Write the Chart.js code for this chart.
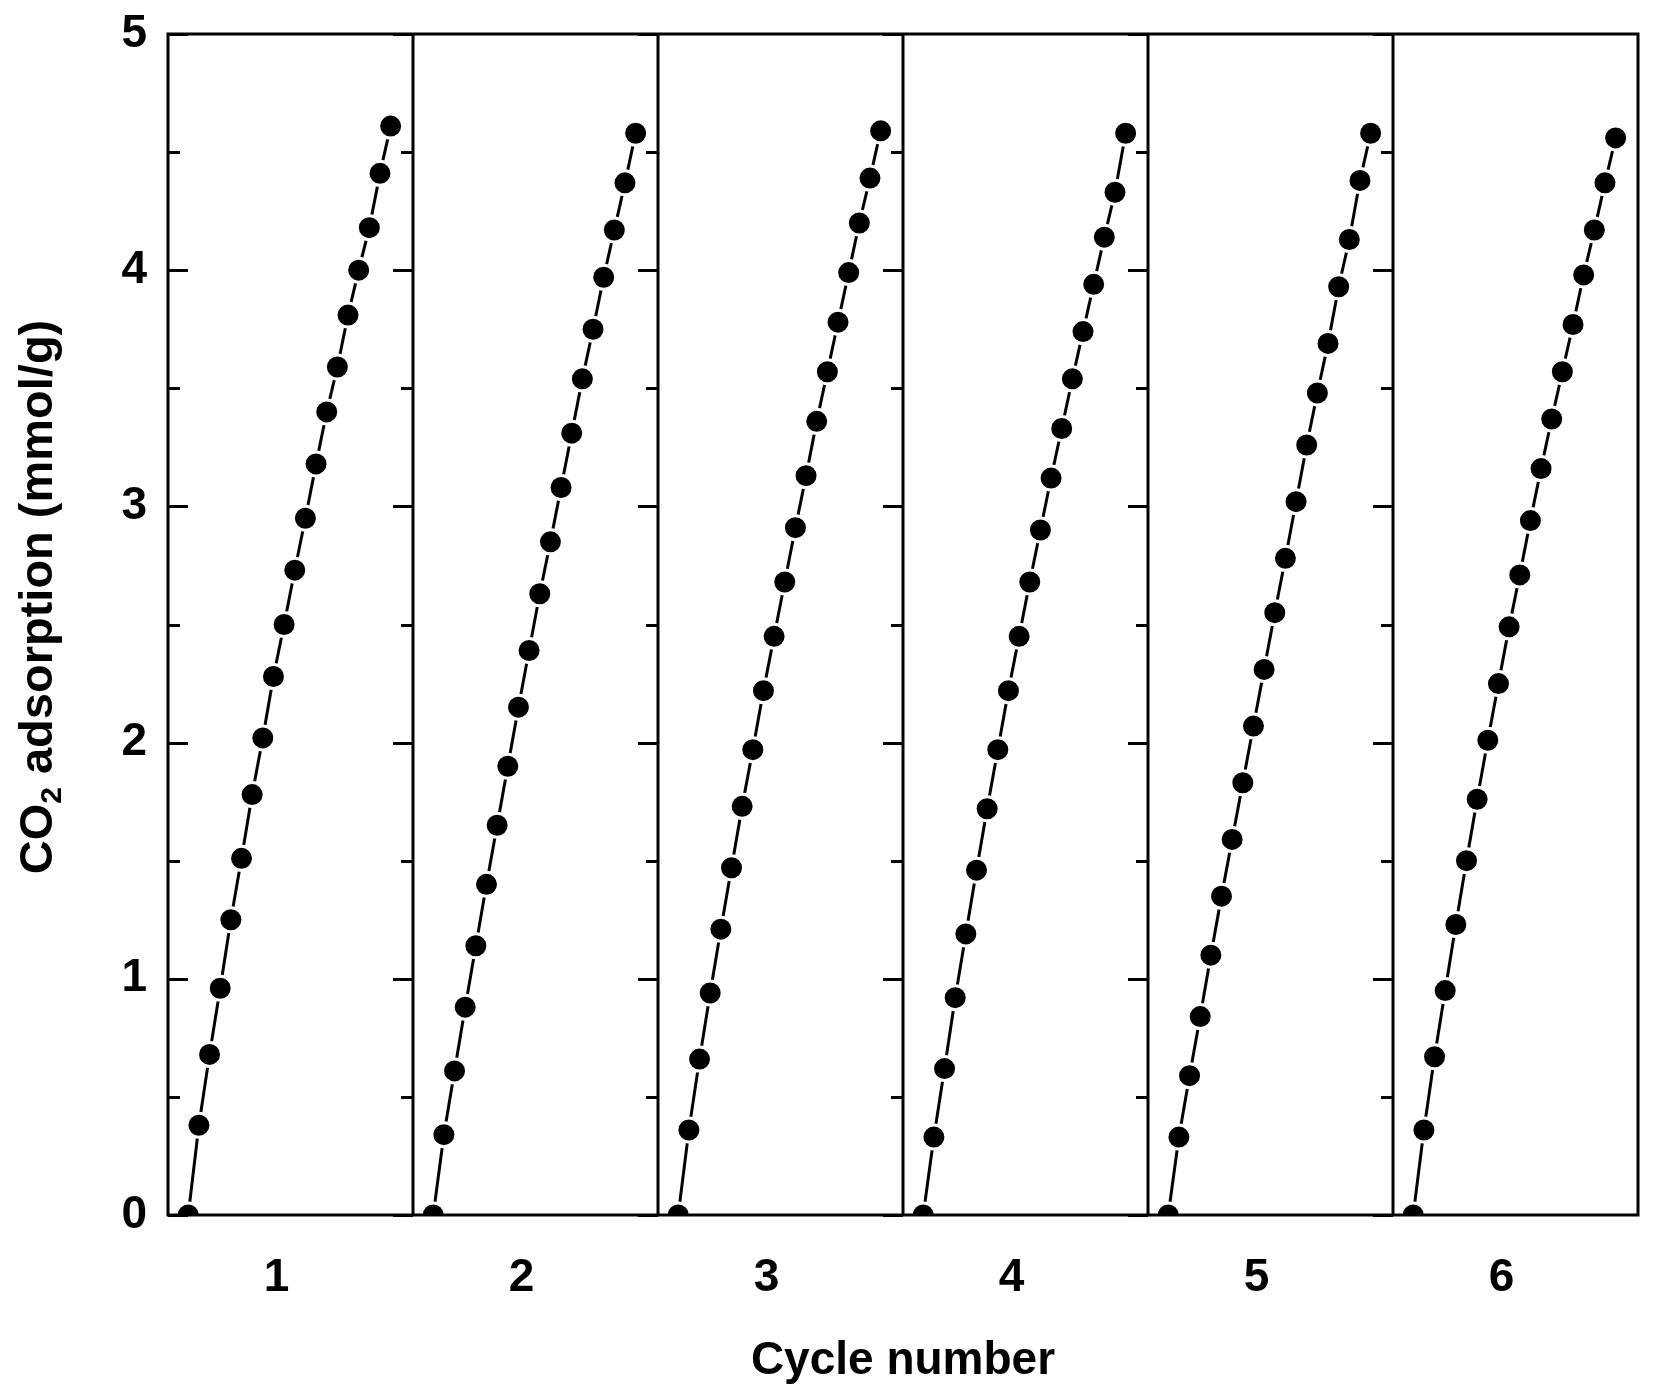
<!DOCTYPE html>
<html>
<head>
<meta charset="utf-8">
<title>CO2 adsorption cycles</title>
<script src="https://cdn.jsdelivr.net/npm/chart.js@4.4.1/dist/chart.umd.min.js"></script>
<style>
  html, body { margin: 0; padding: 0; background: #fff; }
  #wrap { width: 1656px; height: 1397px; position: relative; }
</style>
</head>
<body>
<div id="wrap"><canvas id="cycleChart"></canvas></div>
<script>
const cycleLabels = ["1", "2", "3", "4", "5", "6"];
// sample index inside one adsorption run
const timePoints = [0, 1, 2, 3, 4, 5, 6, 7, 8, 9, 10, 11, 12, 13, 14, 15, 16, 17, 18, 19];

const cycle1 = [0, 0.38, 0.68, 0.96, 1.25, 1.51, 1.78, 2.02, 2.28, 2.50, 2.73, 2.95, 3.18, 3.40, 3.59, 3.81, 4.00, 4.18, 4.41, 4.61];
const cycle2 = [0, 0.34, 0.61, 0.88, 1.14, 1.40, 1.65, 1.90, 2.15, 2.39, 2.63, 2.85, 3.08, 3.31, 3.54, 3.75, 3.97, 4.17, 4.37, 4.58];
const cycle3 = [0, 0.36, 0.66, 0.94, 1.21, 1.47, 1.73, 1.97, 2.22, 2.45, 2.68, 2.91, 3.13, 3.36, 3.57, 3.78, 3.99, 4.20, 4.39, 4.59];
const cycle4 = [0, 0.33, 0.62, 0.92, 1.19, 1.46, 1.72, 1.97, 2.22, 2.45, 2.68, 2.90, 3.12, 3.33, 3.54, 3.74, 3.94, 4.14, 4.33, 4.58];
const cycle5 = [0, 0.33, 0.59, 0.84, 1.10, 1.35, 1.59, 1.83, 2.07, 2.31, 2.55, 2.78, 3.02, 3.26, 3.48, 3.69, 3.93, 4.13, 4.38, 4.58];
const cycle6 = [0, 0.36, 0.67, 0.95, 1.23, 1.50, 1.76, 2.01, 2.25, 2.49, 2.71, 2.94, 3.16, 3.37, 3.57, 3.77, 3.98, 4.17, 4.37, 4.56];
const cycles = [cycle1, cycle2, cycle3, cycle4, cycle5, cycle6];

const yMin = 0;
const yMax = 5;
const yMinorStep = 0.5;

// each panel covers PANEL_SPAN sample units, starting a bit before t=0
const PANEL_START = -1.9;
const PANEL_SPAN = 23;
const LABEL_POS = 8.3;
const FONT = "'Liberation Sans', Arial, sans-serif";

const datasets = cycles.map((vals, i) => ({
  label: "Cycle " + cycleLabels[i],
  data: vals.map((v, j) => ({ x: i * PANEL_SPAN + timePoints[j], y: v })),
  borderColor: "#000",
  borderWidth: 3,
  pointRadius: 12,
  pointBorderWidth: 3,
  pointBackgroundColor: "#000",
  pointBorderColor: "#fff",
  tension: 0,
}));

// frame, panel dividers and inward ticks
const panelFrame = {
  id: "panelFrame",
  afterDatasetsDraw(chart) {
    const { ctx, chartArea: a, scales } = chart;
    const x = scales.x, y = scales.y;
    ctx.save();
    ctx.strokeStyle = "#000";
    ctx.lineWidth = 3;
    ctx.beginPath();
    for (let v = yMin; v <= yMax + 1e-9; v += yMinorStep) {
      const py = Math.round(y.getPixelForValue(v)) + 0.5;
      const len = Number.isInteger(v) ? 20 : 12;
      ctx.moveTo(a.left, py);
      ctx.lineTo(a.left + len, py);
      for (let i = 1; i < cycles.length; i++) {
        const px = x.getPixelForValue(PANEL_START + i * PANEL_SPAN);
        ctx.moveTo(px, py);
        ctx.lineTo(px - len, py);
      }
    }
    for (let i = 1; i < cycles.length; i++) {
      const px = x.getPixelForValue(PANEL_START + i * PANEL_SPAN);
      ctx.moveTo(px, a.top);
      ctx.lineTo(px, a.bottom);
    }
    ctx.stroke();
    ctx.strokeRect(a.left, a.top, a.right - a.left, a.bottom - a.top);
    ctx.restore();
  },
  afterDraw(chart) {
    // y title with subscript 2
    const ctx = chart.ctx;
    const big = "bold 47px " + FONT;
    const small = "bold 30px " + FONT;
    ctx.save();
    ctx.fillStyle = "#000";
    ctx.translate(52, 597);
    ctx.rotate(-Math.PI / 2);
    ctx.textBaseline = "alphabetic";
    ctx.textAlign = "left";
    ctx.font = big;
    const w1 = ctx.measureText("CO").width;
    const w3 = ctx.measureText(" adsorption (mmol/g)").width;
    ctx.font = small;
    const w2 = ctx.measureText("2").width;
    let sx = -(w1 + w2 + w3) / 2;
    ctx.font = big;
    ctx.fillText("CO", sx, 0);
    ctx.font = small;
    ctx.fillText("2", sx + w1, 9);
    ctx.font = big;
    ctx.fillText(" adsorption (mmol/g)", sx + w1 + w2, 0);
    ctx.restore();
  },
};

new Chart(document.getElementById("cycleChart"), {
  type: "line",
  data: { datasets },
  plugins: [panelFrame],
  options: {
    responsive: true,
    maintainAspectRatio: false,
    animation: false,
    layout: { padding: { top: 34, right: 18, left: 0, bottom: 0 } },
    plugins: { legend: { display: false }, tooltip: { enabled: false } },
    scales: {
      x: {
        type: "linear",
        min: PANEL_START,
        max: PANEL_START + cycles.length * PANEL_SPAN,
        grid: { display: false, drawTicks: false },
        border: { display: false },
        afterBuildTicks: (s) => {
          s.ticks = cycleLabels.map((c, i) => ({ value: i * PANEL_SPAN + LABEL_POS }));
        },
        afterFit: (s) => {
          s.height = 182;
          s.paddingLeft = 0;
          s.paddingRight = 0;
        },
        ticks: {
          autoSkip: false,
          maxRotation: 0,
          padding: 36,
          color: "#000",
          font: { family: FONT, size: 46, weight: "bold" },
          callback: (v, idx) => cycleLabels[idx],
        },
        title: {
          display: true,
          text: "Cycle number",
          color: "#000",
          padding: { top: 0, bottom: 8 },
          font: { family: FONT, size: 46, weight: "bold" },
        },
      },
      y: {
        type: "linear",
        min: yMin,
        max: yMax,
        grid: { display: false, drawTicks: false },
        border: { display: false },
        afterFit: (s) => {
          s.width = 168;
          s.paddingTop = 0;
          s.paddingBottom = 0;
        },
        ticks: {
          stepSize: 1,
          padding: 21,
          color: "#000",
          font: { family: FONT, size: 46, weight: "bold" },
        },
      },
    },
  },
});
</script>
</body>
</html>
